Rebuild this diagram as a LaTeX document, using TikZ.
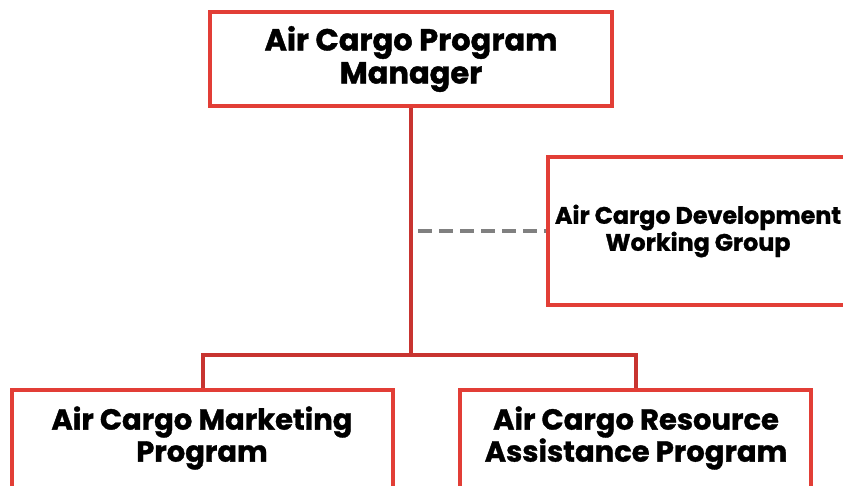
\documentclass[tikz,border=0pt]{standalone}
\usepackage{fontspec}
\setmainfont{Poppins}[BoldFeatures={FakeBold=1.2}]
\definecolor{boxred}{RGB}{226,62,54}
\definecolor{linered}{RGB}{200,52,48}
\definecolor{dashgray}{RGB}{128,128,128}
\begin{document}
\begin{tikzpicture}[x=1pt,y=1pt,
  box/.style={draw=boxred, line width=4pt, fill=white, rectangle, inner sep=0pt},
  lbl/.style={align=center, text=black, inner sep=0pt},
  conn/.style={draw=linered, line width=4pt, line join=miter},
  dashconn/.style={draw=dashgray, line width=4pt, dash pattern=on 14pt off 7pt}]
\useasboundingbox (0,0) rectangle (843,-485);
\clip (0,0) rectangle (843,-485);
\fill[white] (0,0) rectangle (843,-485);
% boxes
\node[box, lbl, minimum width=402pt, minimum height=94pt,
      font=\bfseries\fontsize{30.5}{33}\selectfont] (top) at (411,-59) {Air Cargo Program\\Manager};
\node[box, lbl, minimum width=300pt, minimum height=148pt,
      font=\bfseries\fontsize{23.8}{27}\selectfont] (dev) at (698,-231) {Air Cargo Development\\Working Group};
\node[box, minimum width=381pt, minimum height=100pt] (mkt) at (202.5,-440) {};
\node[box, minimum width=351pt, minimum height=100pt] (res) at (635.5,-440) {};
\node[lbl, font=\bfseries\fontsize{29}{32}\selectfont] (mkttxt) at (202,-438) {Air Cargo Marketing\\Program};
\node[lbl, font=\bfseries\fontsize{29}{32}\selectfont] (restxt) at (636,-438) {Air Cargo Resource\\Assistance Program};
% connectors
\coordinate (j) at (411,-355);
\coordinate (d) at (418,-231);
\draw[conn] (top.south) -- (j);
\draw[conn] (mkt.north) |- (j) -| (res.north);
\draw[dashconn] (d) -- (dev.west);
\end{tikzpicture}
\end{document}
